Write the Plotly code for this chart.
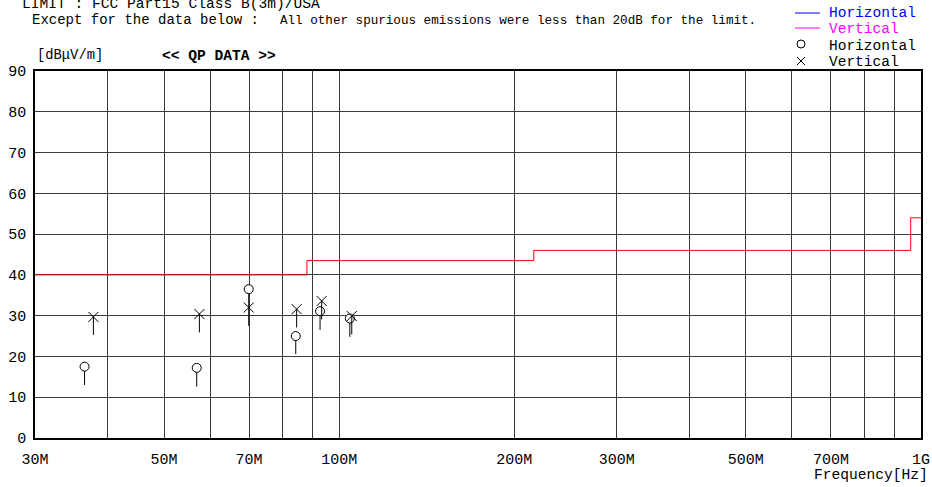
import plotly.graph_objects as go
import numpy as np

# ---- data ----
limit_freq = [30, 88, 216, 960, 1000]          # MHz
limit_level = [40, 43.5, 46, 54, 54]           # dBuV/m

h_freq = [36.5, 56.9, 69.9, 84.2, 92.7, 104.3]  # Horizontal QP points (MHz)
h_level = [17.5, 17.2, 36.5, 25.0, 31.1, 29.3]
h_low = [13.0, 12.6, 32.0, 20.6, 26.5, 24.8]

v_freq = [37.8, 57.5, 69.9, 84.5, 93.3, 105.1]  # Vertical QP points (MHz)
v_level = [29.7, 30.4, 32.0, 31.6, 33.6, 29.9]
v_low = [25.3, 25.9, 27.5, 27.1, 29.1, 25.4]

x_tickvals = [30, 50, 70, 100, 200, 300, 500, 700, 1000]
x_ticktext = ["30M", "50M", "70M", "100M", "200M", "300M", "500M", "700M", "1G"]
x_gridvals = [40, 60, 80, 90, 400, 600, 800, 900]
y_tickvals = [0, 10, 20, 30, 40, 50, 60, 70, 80, 90]

# ---- layout geometry ----
W, H = 932, 487
L, R, T, B = 35, 11, 71, 49
PW, PH = W - L - R, H - T - B
FONT = "Liberation Mono"


def px(x):
    return (x - L) / PW


def py(y):
    return (H - B - y) / PH


def stems(freqs, tops, lows):
    xs, ys = [], []
    for f, t, l in zip(freqs, tops, lows):
        xs += [f, f, None]
        ys += [t, l, None]
    return xs, ys


fig = go.Figure()

fig.add_trace(go.Scatter(x=limit_freq, y=limit_level, mode="lines",
                         line=dict(color="#ff0000", width=1, shape="hv"),
                         hoverinfo="skip"))

sx, sy = stems(h_freq, h_level, h_low)
fig.add_trace(go.Scatter(x=sx, y=sy, mode="lines",
                         line=dict(color="black", width=1), hoverinfo="skip"))
fig.add_trace(go.Scatter(x=h_freq, y=h_level, mode="markers",
                         marker=dict(symbol="circle", size=9, color="white",
                                     line=dict(color="black", width=1))))

sx, sy = stems(v_freq, v_level, v_low)
fig.add_trace(go.Scatter(x=sx, y=sy, mode="lines",
                         line=dict(color="black", width=1), hoverinfo="skip"))
fig.add_trace(go.Scatter(x=v_freq, y=v_level, mode="markers",
                         marker=dict(symbol="x-thin", size=10, color="black",
                                     line=dict(color="black", width=1))))

grid_col = "#3a3a3a"
fig.update_xaxes(type="log", range=[np.log10(30), np.log10(1000)],
                 tickvals=x_tickvals, ticktext=x_ticktext,
                 showgrid=True, gridcolor=grid_col, gridwidth=1,
                 minor=dict(tickvals=x_gridvals, showgrid=True,
                            gridcolor=grid_col, gridwidth=1),
                 showline=True, mirror=True, linecolor="black", linewidth=1.5,
                 ticks="", ticklabelstandoff=6, automargin=False,
                 tickfont=dict(family=FONT, size=15, color="black"),
                 zeroline=False)
fig.update_yaxes(range=[0, 90], tickvals=y_tickvals,
                 showgrid=True, gridcolor=grid_col, gridwidth=1,
                 showline=True, mirror=True, linecolor="black", linewidth=1.5,
                 ticks="", ticklabelstandoff=4, automargin=False,
                 tickfont=dict(family=FONT, size=15, color="black"),
                 zeroline=False)

ann = []


def text(x, y, s, size, color="black", anchor="left", bold=False):
    if bold:
        s = "<b>" + s + "</b>"
    ann.append(dict(x=px(x), y=py(y), xref="paper", yref="paper", text=s,
                    showarrow=False, xanchor=anchor, yanchor="middle",
                    font=dict(family=FONT, size=size, color=color),
                    borderpad=0))


text(21, 4, "LIMIT : FCC Part15 Class B(3m)/USA", 14.6)
text(31, 20, "Except for the data below :", 14)
text(279, 21, "All other spurious emissions were less than 20dB for the limit.", 12.6)
text(36, 56, "[dBμV/m]", 13.8)
text(161, 56, "&lt;&lt; QP DATA &gt;&gt;", 14.6, bold=True)
text(929, 475, "Frequency[Hz]", 14.6, anchor="right")

# legend texts
text(828, 13, "Horizontal", 14.5, color="#0000ff")
text(828, 29, "Vertical", 14.5, color="#ff00ff")
text(828, 46, "Horizontal", 14.5)
text(828, 62, "Vertical", 14.5)


def pline(x0, y0, x1, y1, color):
    return dict(type="line", xref="paper", yref="paper", x0=px(x0), x1=px(x1),
                y0=py(y0), y1=py(y1), line=dict(color=color, width=1))


shapes = [
    pline(795, 13, 820, 13, "#0000ff"),
    pline(795, 28, 820, 28, "#ff00ff"),
    dict(type="circle", xref="paper", yref="paper",
         x0=px(797), x1=px(805), y0=py(48), y1=py(40),
         line=dict(color="black", width=1)),
    pline(797, 57, 805, 65, "black"),
    pline(797, 65, 805, 57, "black"),
]

fig.update_layout(width=W, height=H, margin=dict(l=L, r=R, t=T, b=B),
                  paper_bgcolor="white", plot_bgcolor="white",
                  showlegend=False, annotations=ann, shapes=shapes,
                  font=dict(family=FONT))

fig.write_html("out.html", config={"displayModeBar": False},
               post_script="document.body.style.margin='0';"
                           "document.body.style.overflow='hidden';")
